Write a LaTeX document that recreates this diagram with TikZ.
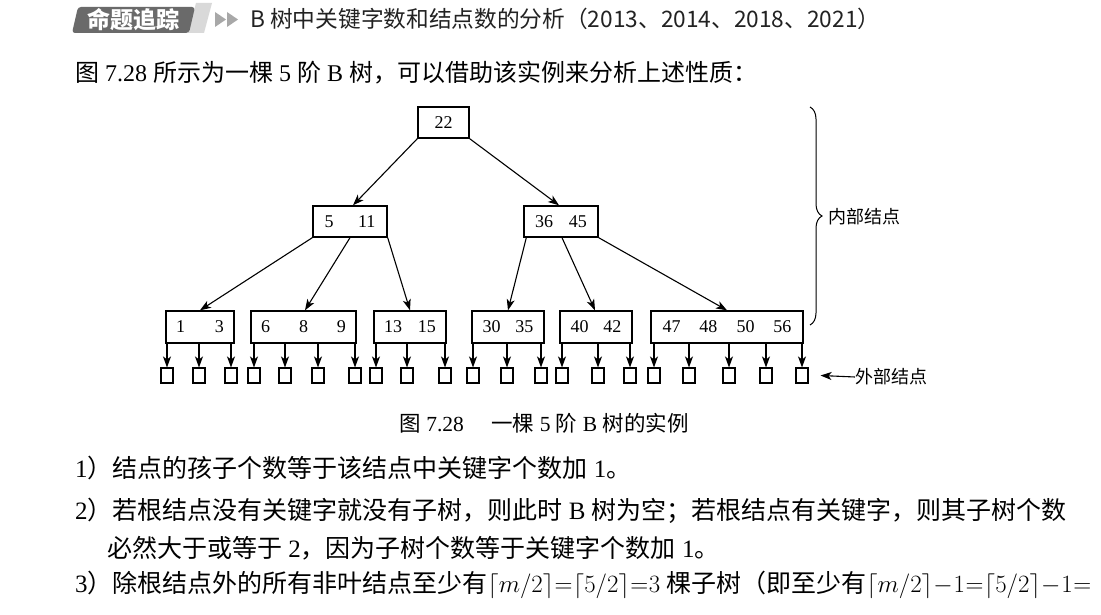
\documentclass[tikz,border=0pt]{standalone}
\usepackage{fontspec}
\setmainfont{Liberation Serif}
\newfontfamily\cjk{Noto Sans CJK SC}
\usetikzlibrary{arrows.meta,decorations.pathreplacing,calc}
\newcommand\C[1]{{\cjk #1}}
\definecolor{tagdark}{HTML}{6A6A6A}
\definecolor{taglight}{HTML}{D9D9D9}
\definecolor{triangray}{HTML}{A8A8A8}
\definecolor{headtext}{HTML}{222222}
\tikzset{
  keybox/.style={draw, line width=1.4pt, minimum height=31pt, inner sep=0pt, font=\fontsize{18}{20}\selectfont},
  extbox/.style={draw, line width=1.1pt, minimum width=12pt, minimum height=15pt, inner sep=0pt},
  arr/.style={-{Stealth[length=11pt,width=8pt,inset=3pt]}, line width=1.1pt},
  bodytext/.style={anchor=west, inner sep=0pt, font=\fontsize{25}{27}\selectfont},
  lbl/.style={anchor=west, inner sep=0pt, font=\cjk\fontsize{18}{20}\selectfont},
}
\begin{document}
\begin{tikzpicture}[x=1pt,y=-1pt]
\useasboundingbox[fill=white] (0,0) rectangle (1101,615);

% header tag
\fill[taglight] (196,3) -- (212,3) -- (204,33) -- (188,33) -- cycle;
\fill[tagdark, rounded corners=3pt] (78,7) -- (195,7) -- (189,33) -- (72,33) -- cycle;
\node[text=white, inner sep=0pt, font=\cjk\bfseries\fontsize{23}{25}\selectfont] (tag) at (133,20) {命题追踪};
\fill[triangray] (215,12) -- (226,19.5) -- (215,27) -- cycle;
\fill[triangray] (227,12) -- (238,19.5) -- (227,27) -- cycle;
\node[anchor=west, inner sep=0pt, text=headtext, font=\cjk\fontsize{22.7}{24}\selectfont] (head) at (250,19)
  {B 树中关键字数和结点数的分析（2013、2014、2018、2021）};

\node[anchor=west, inner sep=0pt, font=\fontsize{24}{26}\selectfont] (intro) at (75,73) {\C{图} 7.28 \C{所示为一棵} 5 \C{阶} B \C{树，可以借助该实例来分析上述性质：}};

% tree
\node[keybox, minimum width=51pt] (R) at (443.5,122.5) {22};
\node[keybox, minimum width=74pt] (N1) at (350,221.5) {5\hspace{24.5pt}11};
\node[keybox, minimum width=74pt] (N2) at (561,221.5) {36\hspace{16pt}45};
\node[keybox, minimum width=68pt, minimum height=32pt] (L1) at (200,327) {1\hspace{30pt}3};
\node[keybox, minimum width=105pt, minimum height=32pt] (L2) at (303.5,327) {6\hspace{29pt}8\hspace{29pt}9};
\node[keybox, minimum width=72pt, minimum height=32pt] (L3) at (410,327) {13\hspace{16pt}15};
\node[keybox, minimum width=72pt, minimum height=32pt] (L4) at (508,327) {30\hspace{15pt}35};
\node[keybox, minimum width=72pt, minimum height=32pt] (L5) at (596,327) {40\hspace{15pt}42};
\node[keybox, minimum width=152pt, minimum height=32pt] (L6) at (727,327) {47\hspace{19pt}48\hspace{19pt}50\hspace{19pt}56};

\draw[arr] (R.south west) -- ([xshift=3pt]N1.north);
\draw[arr] (R.south east) -- ([xshift=-2pt]N2.north);
\draw[arr] (N1.south west) -- (L1.north);
\draw[arr] (N1.south) -- ([xshift=1.5pt]L2.north);
\draw[arr] (N1.south east) -- (L3.north);
\draw[arr] ([xshift=3pt]N2.south west) -- (L4.north);
\draw[arr] ([xshift=1pt]N2.south) -- ([xshift=-1pt]L5.north);
\draw[arr] (N2.south east) -- (L6.north);

% external nodes
\foreach \x [count=\i] in {167,199,231,254,285,318,355,376,407,445,473,507,541,562,598,630,654,689,729,766,802}
  \node[extbox] (E\i) at (\x,375.5) {};
\foreach \i/\b in {1/L1,2/L1,3/L1,4/L2,5/L2,6/L2,7/L2,8/L3,9/L3,10/L3,11/L4,12/L4,13/L4,14/L5,15/L5,16/L5,17/L6,18/L6,19/L6,20/L6,21/L6}
  \draw[arr] (E\i.north |- \b.south) -- (E\i.north);

% brace and labels
\coordinate (bt) at (810,107);
\coordinate (bb) at (810,325);
\draw[line width=1pt, decorate, decoration={brace, amplitude=12pt}] (bt) -- (bb);
\node[lbl] (inner) at (828,217) {内部结点};
\node[lbl] (outer) at (855,377) {外部结点};
\draw[arr] (outer.west) -- ([xshift=12pt]E21.east);

\node[inner sep=0pt, font=\fontsize{21.5}{23}\selectfont] (cap) at (544,423) {\C{图} 7.28\hspace{6pt}\C{　一棵} 5 \C{阶} B \C{树的实例}};

% body text
\node[bodytext] (t1) at (75,468) {1\C{）结点的孩子个数等于该结点中关键字个数加} 1\C{。}};
\node[bodytext] (t2) at (75,511) {2\C{）若根结点没有关键字就没有子树，则此时} B \C{树为空；若根结点有关键字，则其子树个数}};
\node[bodytext] (t3) at (107,548) {\C{必然大于或等于} 2\C{，因为子树个数等于关键字个数加} 1\C{。}};
\node[bodytext] (t4) at (75,585) {\thickmuskip=0.5mu\medmuskip=0.5mu 3\C{）除根结点外的所有非叶结点至少有}$\left\lceil m/2\right\rceil=\left\lceil 5/2\right\rceil=3$ \C{棵子树（即至少有}$\left\lceil m/2\right\rceil-1=\left\lceil 5/2\right\rceil-1=$};
\end{tikzpicture}
\end{document}
